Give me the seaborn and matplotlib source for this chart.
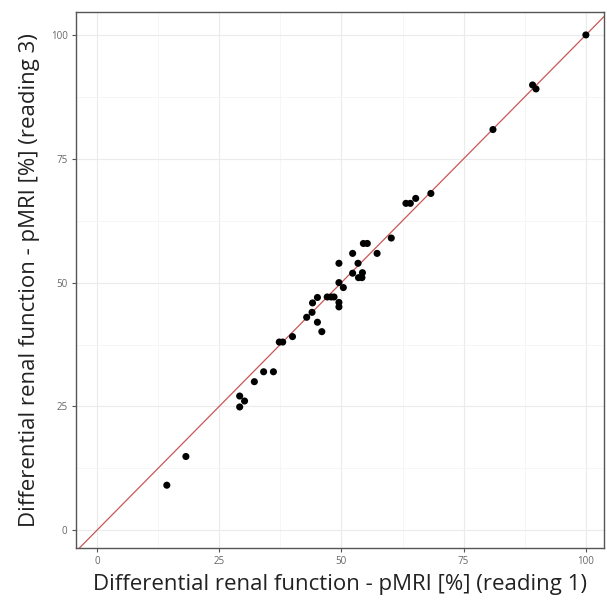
import matplotlib
matplotlib.use("Agg")
import matplotlib.pyplot as plt
import numpy as np
import pandas as pd
import seaborn as sns

# DRF readings (pMRI, %)
READING_1 = [14.3, 18.2, 29.2, 30.2, 29.2, 32.2, 34.1, 36.1, 37.3, 38.0,
             40.0, 42.9, 44.0, 44.1, 45.1, 45.1, 46.0, 47.1, 47.9, 48.5,
             49.5, 49.5, 49.5, 49.5, 50.4, 52.3, 53.4, 52.3, 54.3, 53.5,
             54.2, 54.5, 55.3, 57.3, 60.2, 63.2, 64.1, 65.2, 68.3, 81.0,
             89.1, 89.8, 100.0]
READING_3 = [9.1, 14.9, 27.1, 26.1, 24.9, 30.0, 32.0, 32.0, 38.0, 38.0,
             39.1, 43.0, 44.0, 45.9, 47.0, 42.0, 40.1, 47.1, 47.1, 47.1,
             46.0, 45.1, 53.9, 50.0, 49.0, 55.9, 53.9, 51.9, 52.0, 51.0,
             51.0, 57.9, 57.9, 55.9, 59.0, 66.0, 66.0, 67.0, 68.0, 80.9,
             89.9, 89.1, 100.0]
TICKS = [0, 25, 50, 75, 100]
MINOR_TICKS = [12.5, 37.5, 62.5, 87.5]
X_LABEL = "Differential renal function - pMRI [%] (reading 1)"
Y_LABEL = "Differential renal function - pMRI [%] (reading 3)"

df = pd.DataFrame({"r1": READING_1, "r3": READING_3})

sns.set_theme(style="white")
plt.rcParams["font.family"] = ["Open Sans", "DejaVu Sans"]

fig, ax = plt.subplots(figsize=(6.07, 6.07), dpi=100)
fig.subplots_adjust(left=0.125, right=0.995, top=0.980, bottom=0.097)

ax.set_xlim(-4.3, 103.7)
ax.set_ylim(-3.6, 104.6)
ax.set_xticks(TICKS)
ax.set_yticks(TICKS)
ax.set_xticks(MINOR_TICKS, minor=True)
ax.set_yticks(MINOR_TICKS, minor=True)
ax.grid(which="major", color="#ebebeb", linewidth=0.8)
ax.grid(which="minor", color="#f3f3f3", linewidth=0.5)
ax.set_axisbelow(True)

ax.axline((-4.3, -4.3), slope=1, color="#c95656", linewidth=0.9, zorder=2)
sns.scatterplot(data=df, x="r1", y="r3", color="black", s=26,
                edgecolor="none", ax=ax, zorder=3)

for side in ax.spines.values():
    side.set_color("#555555")
    side.set_linewidth(1.0)

ax.tick_params(which="major", direction="out", length=3, width=0.8,
               color="#555555", labelsize=7, labelcolor="#666666", pad=3,
               bottom=True, left=True)
ax.tick_params(which="minor", length=0)
ax.set_xlabel(X_LABEL, fontsize=16, color="#222222", labelpad=5)
ax.set_ylabel(Y_LABEL, fontsize=16, color="#222222", labelpad=8)

fig.savefig("out.png", dpi=100)
